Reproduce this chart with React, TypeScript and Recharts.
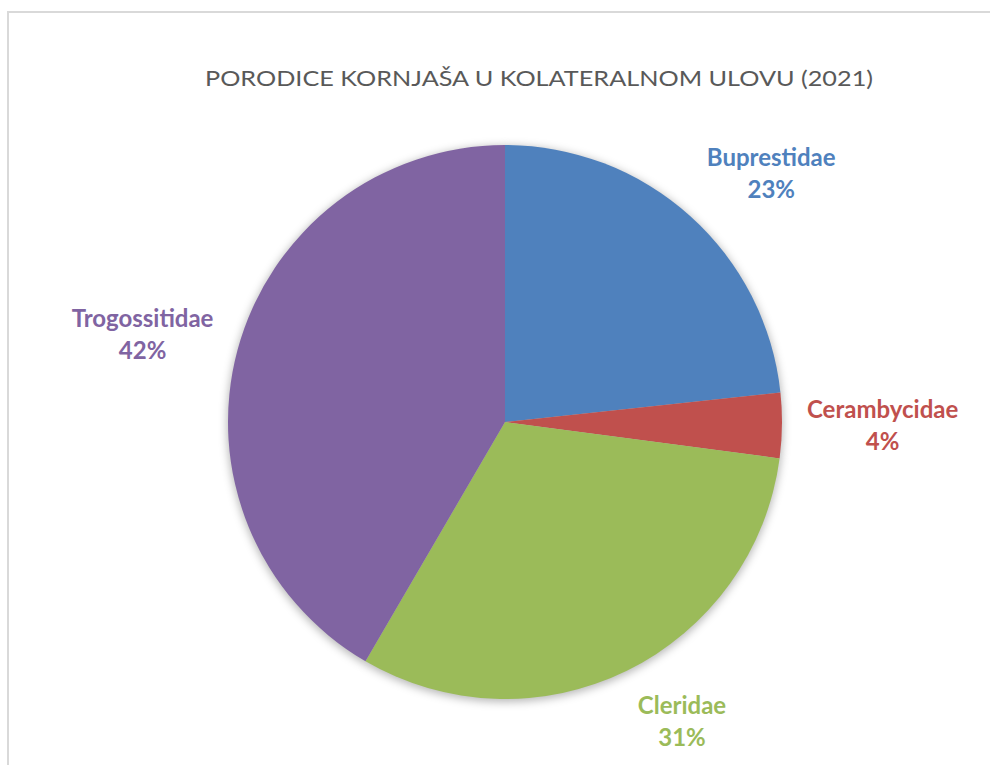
import { PieChart, Pie, Cell } from 'recharts';

// porodice kornjaša, udio u kolateralnom ulovu (%)
const families = ['Buprestidae', 'Cerambycidae', 'Cleridae', 'Trogossitidae'];
const shares = [23.3, 3.8, 31.3, 41.6];
const colors = ['#4F81BD', '#C0504D', '#9BBB59', '#8064A2'];

const data = families.map((name, i) => ({ name, value: shares[i] }));

const TITLE = 'PORODICE KORNJAŠA U KOLATERALNOM ULOVU (2021)';
const RADIAN = Math.PI / 180;
const LABEL_FONT = 'bold 24px Lato';
const LINE = 32;

let ctx: CanvasRenderingContext2D | null = null;
function textWidth(s: string) {
  if (!ctx) ctx = document.createElement('canvas').getContext('2d');
  if (!ctx) return s.length * 12;
  ctx.font = LABEL_FONT;
  return ctx.measureText(s).width;
}

function renderLabel(props: any) {
  const { cx, cy, midAngle, outerRadius, name, percent, index } = props;
  const cos = Math.cos(-midAngle * RADIAN);
  const sin = Math.sin(-midAngle * RADIAN);
  const r = outerRadius + 25;
  const ax = cx + r * cos;
  const ay = cy + r * sin;
  const w = textWidth(name);
  const x = ax + (cos >= 0 ? 1 : -1) * (w / 2);
  const y = ay + sin * LINE;
  return (
    <text
      key={`lbl-${index}`}
      x={x}
      y={y}
      textAnchor="middle"
      fill={colors[index]}
      style={{ font: LABEL_FONT }}
    >
      <tspan x={x} y={y - LINE / 2 + 8}>{name}</tspan>
      <tspan x={x} y={y + LINE / 2 + 8}>{`${Math.round(percent * 100)}%`}</tspan>
    </text>
  );
}

export default function App() {
  return (
    <div
      style={{
        position: 'fixed',
        left: 0,
        top: 0,
        width: 990,
        height: 765,
        overflow: 'hidden',
        background: '#fff',
      }}
    >
      <div
        style={{
          position: 'absolute',
          left: 7,
          top: 11,
          width: 1100,
          height: 1100,
          borderLeft: '2px solid #d9d9d9',
          borderTop: '2px solid #d9d9d9',
        }}
      />
      <div style={{ position: 'absolute', left: 0, top: 0 }}>
        <PieChart width={990} height={765} margin={{ top: 0, right: 0, bottom: 0, left: 0 }}>
          {/* soft shadow under the pie */}
          <Pie
            data={data}
            dataKey="value"
            nameKey="name"
            cx={505}
            cy={424}
            outerRadius={278}
            startAngle={90}
            endAngle={-270}
            stroke="none"
            label={false}
            labelLine={false}
            isAnimationActive={false}
          >
            {data.map((d) => (
              <Cell
                key={`s-${d.name}`}
                fill="#000"
                fillOpacity={0.28}
                style={{ filter: 'blur(4px)' }}
              />
            ))}
          </Pie>
          <Pie
            data={data}
            dataKey="value"
            nameKey="name"
            cx={505}
            cy={422}
            outerRadius={277}
            startAngle={90}
            endAngle={-270}
            stroke="none"
            label={renderLabel}
            labelLine={false}
            isAnimationActive={false}
          >
            {data.map((d, i) => (
              <Cell key={d.name} fill={colors[i]} />
            ))}
          </Pie>
        </PieChart>
      </div>
      <svg
        width={990}
        height={120}
        style={{ position: 'absolute', left: 0, top: 0, pointerEvents: 'none' }}
      >
        <text
          x={539}
          y={86}
          textAnchor="middle"
          fill="#595959"
          textLength={668}
          lengthAdjust="spacingAndGlyphs"
          style={{ font: '21px Lato' }}
        >
          {TITLE}
        </text>
      </svg>
    </div>
  );
}
